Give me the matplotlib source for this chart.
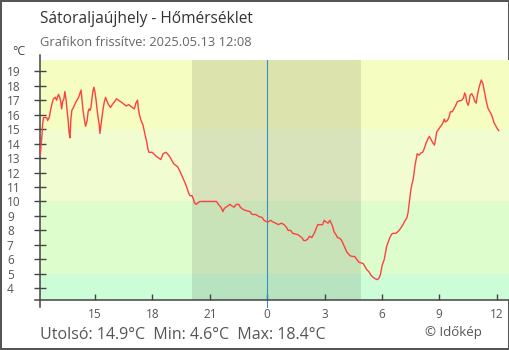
import matplotlib
matplotlib.use("Agg")
import matplotlib.pyplot as plt
import matplotlib.dates as mdates
import pandas as pd

plt.rcParams['font.family'] = ['Open Sans', 'DejaVu Sans']

STATION = "Sátoraljaújhely"
UPDATED = "2025.05.13 12:08"
START = "2025-05-12 12:07"
END = "2025-05-13 12:40"
SUNSET = "2025-05-12 20:04"
SUNRISE = "2025-05-13 04:54"
MIDNIGHT = "2025-05-13 00:00"

# readings, clock time (rolls over midnight) and temperature in °C
times = [
    "12:08", "12:10", "12:13", "12:15", "12:18", "12:28", "12:31", "12:36", "12:40", "12:44",
    "12:49", "12:55", "12:59", "13:05", "13:09", "13:12", "13:15", "13:18", "13:22", "13:25",
    "13:29", "13:32", "13:35", "13:38", "13:41", "13:44", "13:47", "13:52", "13:58", "14:03",
    "14:08", "14:13", "14:16", "14:19", "14:22", "14:26", "14:30", "14:35", "14:38", "14:41",
    "14:44", "14:47", "14:50", "14:53", "14:56", "15:00", "15:03", "15:06", "15:10", "15:13",
    "15:15", "15:18", "15:22", "15:25", "15:29", "15:33", "15:36", "15:42", "15:48", "15:54",
    "16:01", "16:07", "16:13", "16:20", "16:26", "16:32", "16:38", "16:45", "16:51", "16:57",
    "17:03", "17:08", "17:13", "17:16", "17:19", "17:24", "17:30", "17:35", "17:38", "17:42",
    "17:46", "17:49", "17:59", "18:04", "18:13", "18:20", "18:26", "18:30", "18:33", "18:42",
    "18:47", "18:54", "19:02", "19:07", "19:13", "19:19", "19:26", "19:32", "19:38", "19:44",
    "19:49", "19:53", "19:58", "20:04", "20:08", "20:12", "20:17", "20:22", "20:29", "20:39",
    "20:55", "21:02", "21:21", "21:27", "21:35", "21:41", "21:45", "21:50", "21:57", "22:03",
    "22:09", "22:16", "22:23", "22:31", "22:36", "22:41", "22:50", "22:57", "23:06", "23:13",
    "23:24", "23:35", "23:44", "23:50", "23:58", "00:04", "00:11", "00:17", "00:27", "00:35",
    "00:45", "00:53", "01:01", "01:06", "01:14", "01:20", "01:29", "01:37", "01:43", "01:49",
    "01:55", "02:01", "02:07", "02:13", "02:20", "02:25", "02:30", "02:35", "02:39", "02:49",
    "02:54", "02:59", "03:04", "03:11", "03:17", "03:21", "03:25", "03:30", "03:36", "03:41",
    "03:48", "03:54", "03:59", "04:04", "04:09", "04:14", "04:20", "04:28", "04:35", "04:41",
    "04:48", "04:56", "05:02", "05:07", "05:12", "05:19", "05:26", "05:33", "05:40", "05:46",
    "05:51", "05:56", "06:01", "06:07", "06:11", "06:15", "06:20", "06:25", "06:31", "06:36",
    "06:44", "06:52", "06:59", "07:05", "07:12", "07:18", "07:22", "07:25", "07:28", "07:31",
    "07:35", "07:38", "07:41", "07:44", "07:47", "07:51", "07:57", "08:02", "08:08", "08:12",
    "08:19", "08:25", "08:29", "08:34", "08:40", "08:45", "08:49", "08:52", "08:57", "09:03",
    "09:08", "09:13", "09:16", "09:19", "09:26", "09:31", "09:35", "09:41", "09:47", "09:52",
    "09:57", "10:03", "10:11", "10:16", "10:20", "10:23", "10:26", "10:31", "10:34", "10:37",
    "10:42", "10:47", "10:52", "10:56", "11:00", "11:04", "11:08", "11:12", "11:17", "11:21",
    "11:25", "11:29", "11:33", "11:39", "11:44", "11:48", "11:52", "11:58", "12:03", "12:07",
]
temps = [
    13.2, 13.8, 14.5, 15.3, 15.8, 15.8, 15.6, 15.8, 16.3, 16.7,
    17.1, 17.2, 17.0, 17.4, 17.2, 16.9, 16.4, 16.9, 17.1, 17.6,
    17.0, 16.3, 15.7, 14.8, 14.4, 15.7, 16.3, 16.5, 16.8, 17.0,
    17.2, 17.5, 17.7, 17.0, 16.3, 15.7, 15.2, 15.6, 16.2, 16.4,
    16.3, 16.5, 17.1, 17.6, 17.9, 17.5, 17.0, 16.4, 15.7, 15.3,
    14.7, 15.2, 15.9, 16.4, 16.9, 17.2, 17.0, 16.7, 16.5, 16.7,
    16.9, 17.1, 17.0, 16.9, 16.8, 16.7, 16.6, 16.7, 16.6, 16.5,
    16.4, 16.8, 17.0, 16.4, 16.0, 15.6, 15.3, 14.8, 14.5, 14.1,
    13.6, 13.4, 13.4, 13.3, 13.1, 13.0, 12.9, 13.1, 13.3, 13.4,
    13.3, 13.1, 12.8, 12.6, 12.5, 12.4, 12.1, 11.8, 11.5, 11.2,
    10.9, 10.6, 10.4, 10.4, 10.2, 9.9, 9.8, 9.9, 10.0, 10.0,
    10.0, 10.0, 10.0, 9.8, 9.6, 9.3, 9.5, 9.6, 9.7, 9.8,
    9.7, 9.6, 9.8, 9.8, 9.6, 9.5, 9.4, 9.35, 9.3, 9.1,
    9.1, 8.95, 8.9, 8.7, 8.6, 8.6, 8.7, 8.6, 8.5, 8.4,
    8.5, 8.4, 8.2, 8.0, 8.0, 7.8, 7.75, 7.7, 7.6, 7.5,
    7.3, 7.3, 7.4, 7.6, 7.5, 7.7, 7.9, 8.2, 8.4, 8.4,
    8.4, 8.7, 8.6, 8.5, 8.7, 8.5, 8.3, 7.9, 7.7, 7.5,
    7.45, 7.3, 7.05, 6.8, 6.55, 6.4, 6.25, 6.2, 6.2, 6.0,
    5.8, 5.75, 5.7, 5.5, 5.3, 5.15, 4.9, 4.75, 4.65, 4.6,
    4.7, 5.0, 5.6, 5.95, 6.4, 6.9, 7.2, 7.5, 7.75, 7.8,
    7.8, 7.95, 8.15, 8.35, 8.65, 8.85, 9.2, 9.75, 10.3, 10.8,
    11.25, 11.5, 11.95, 12.5, 12.85, 13.3, 13.2, 13.35, 13.4, 13.6,
    14.05, 14.35, 14.5, 14.3, 14.05, 13.9, 14.35, 14.8, 14.95, 15.15,
    15.3, 15.5, 15.7, 15.5, 15.6, 15.85, 16.2, 16.2, 16.45, 16.65,
    16.9, 16.95, 17.0, 17.15, 17.5, 17.35, 16.9, 16.65, 16.9, 17.35,
    17.45, 17.25, 16.9, 16.8, 17.35, 17.8, 18.1, 18.4, 18.15, 17.7,
    17.25, 16.8, 16.45, 16.2, 16.0, 15.75, 15.45, 15.2, 15.0, 14.9,
]

# temperature bands behind the curve
band_edges = [-50, 5, 10, 15, 50]
band_colors = ["#ccfdd6", "#defdcc", "#f1fdd1", "#f5fdc1"]
yticks = list(range(4, 20))
xticks_h = range(0, 24, 3)


def to_stamps(clock, first_day="2025-05-12"):
    day = pd.Timestamp(first_day)
    out, prev = [], None
    for c in clock:
        t = pd.Timedelta(hours=int(c[:2]), minutes=int(c[3:]))
        if prev is not None and t < prev:
            day += pd.Timedelta(days=1)
        prev = t
        out.append(day + t)
    return out


ts = to_stamps(times)

fig = plt.figure(figsize=(5.1, 3.5), dpi=100)
fig.patch.set_edgecolor("#555555")
fig.patch.set_linewidth(1.5)
ax = fig.add_axes([40 / 510, 50 / 350, 469.3 / 510, 240 / 350])

for lo, hi, col in zip(band_edges[:-1], band_edges[1:], band_colors):
    ax.axhspan(lo, hi, color=col, lw=0, zorder=0)
ax.axvspan(pd.Timestamp(SUNSET), pd.Timestamp(SUNRISE), color="black", alpha=0.1, lw=0, zorder=1)
ax.axvline(pd.Timestamp(MIDNIGHT), ymin=-0.03, color="#3a8fc4", lw=0.8, clip_on=False, zorder=2)

ax.plot(ts, temps, color="#ff4040", lw=1.0, zorder=5)

ax.set_xlim(pd.Timestamp(START), pd.Timestamp(END))
ax.set_ylim(3.19, 19.78)

for s in ax.spines.values():
    s.set_visible(False)
ax.plot([0, 0], [-0.03, 1.021], transform=ax.transAxes, color="#444444", lw=1.1,
        clip_on=False, zorder=4)
ax.plot([-0.011, 1], [0, 0], transform=ax.transAxes, color="#444444", lw=1.1,
        clip_on=False, zorder=4)

ax.set_yticks(yticks)
ax.tick_params(axis="y", direction="inout", length=9, width=1, color="#444444",
               labelsize=8.5, labelcolor="#555555", pad=19.3)
for lab in ax.get_yticklabels():
    lab.set_horizontalalignment("left")

ax.xaxis.set_major_locator(mdates.HourLocator(byhour=xticks_h))
ax.xaxis.set_major_formatter(plt.FuncFormatter(lambda v, p: str(mdates.num2date(v).hour)))
ax.tick_params(axis="x", direction="in", length=4.5, width=1, color="#444444",
               labelsize=8.5, labelcolor="#555555", pad=5.5)

fig.text(40 / 510, 1 - 23 / 350, f"{STATION} - Hőmérséklet", fontsize=11.2,
         color="#333333", va="baseline")
fig.text(40 / 510, 1 - 45.5 / 350, f"Grafikon frissítve: {UPDATED}", fontsize=9.3,
         color="#666666", va="baseline")
fig.text(12 / 510, 1 - 55 / 350, "°C", fontsize=9, color="#444444", va="baseline")

last, lo_t, hi_t = temps[-1], min(temps), max(temps)
fig.text(40 / 510, 1 - 339 / 350,
         f"Utolsó: {last:.1f}°C  Min: {lo_t:.1f}°C  Max: {hi_t:.1f}°C",
         fontsize=11.5, color="#555555", va="baseline")
fig.text(425 / 510, 1 - 336 / 350, "© Időkép", fontsize=9.5, color="#555555", va="baseline")

fig.savefig("out.png", dpi=100, edgecolor=fig.get_edgecolor())
